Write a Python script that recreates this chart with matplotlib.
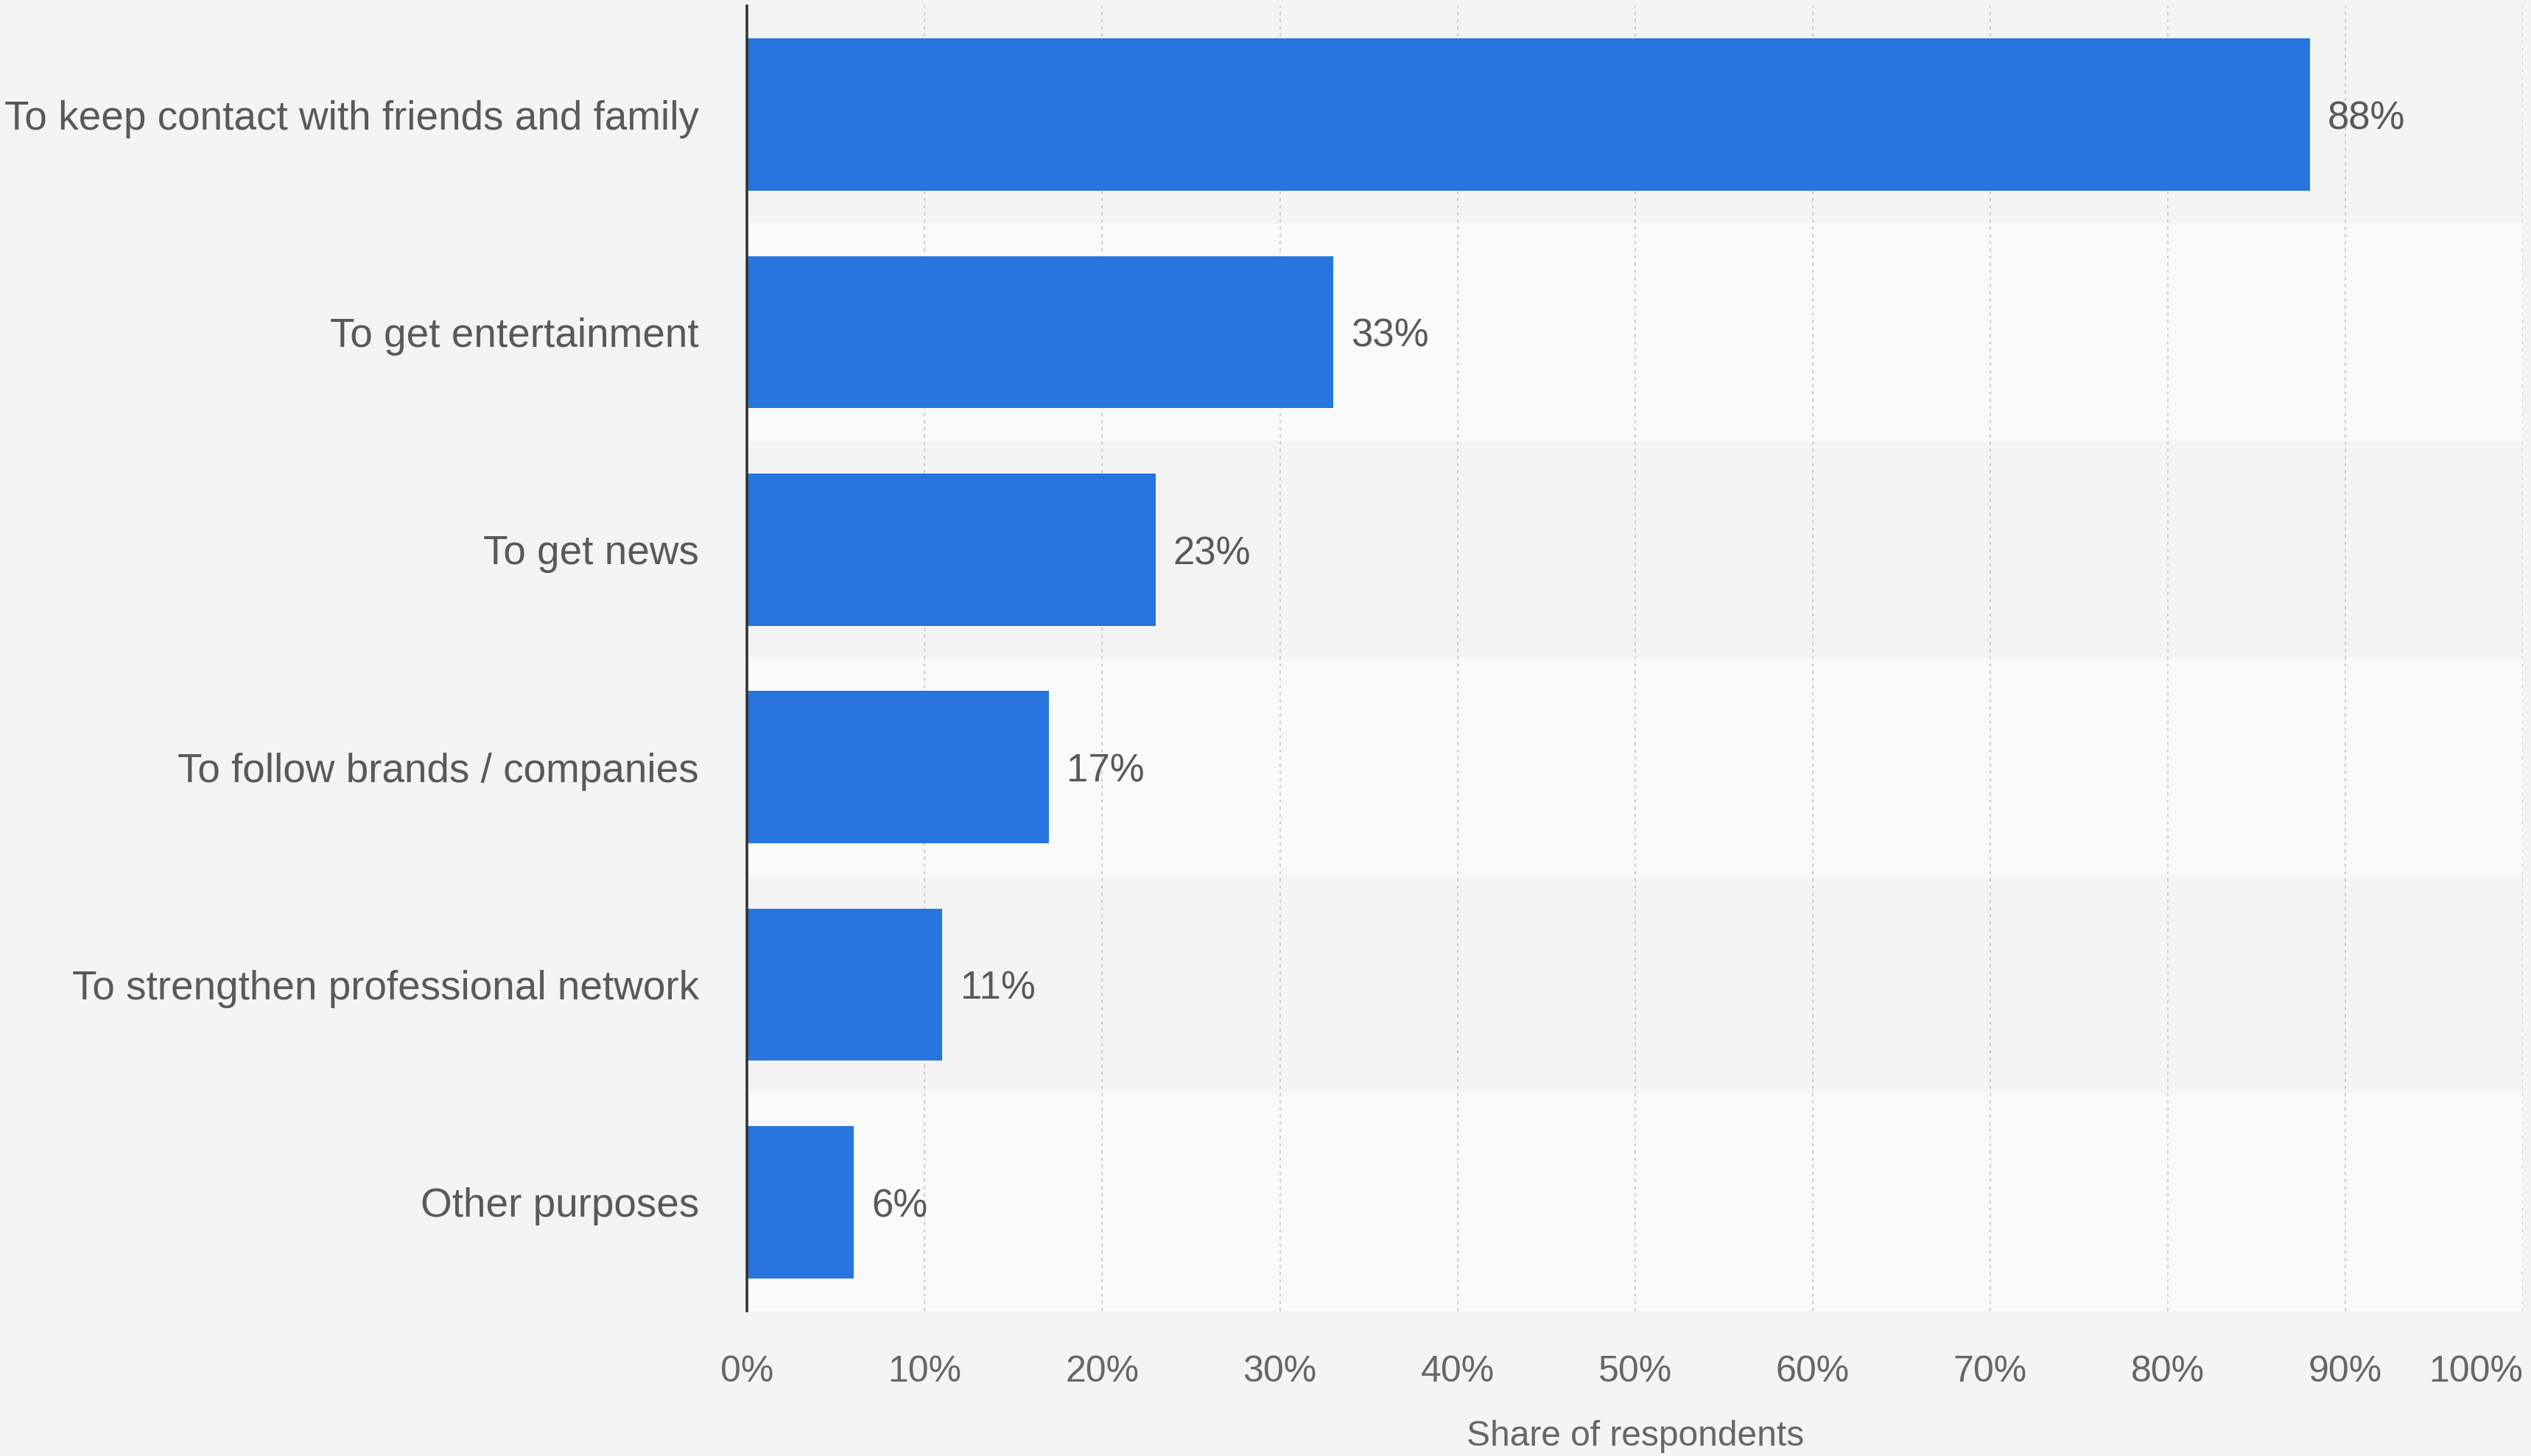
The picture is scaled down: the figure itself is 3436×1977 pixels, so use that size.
import matplotlib.pyplot as plt
import numpy as np

# Data
categories = [
    'To keep contact with friends and family',
    'To get entertainment',
    'To get news',
    'To follow brands / companies',
    'To strengthen professional network',
    'Other purposes',
]
shares = [88, 33, 23, 17, 11, 6]
xticks = list(range(0, 101, 10))
xtick_labels = [f'{t}%' for t in xticks]

plt.rcParams['font.family'] = ['Liberation Sans', 'DejaVu Sans']

bg = '#f4f4f4'
bar_color = '#2875dd'
text_color = '#595959'

fig = plt.figure(figsize=(34.36, 19.77), dpi=100, facecolor=bg)
ax = fig.add_axes([0.2952, 0.0996, 0.7016, 0.8964])
ax.set_facecolor(bg)

y = np.arange(len(categories))

# alternating row bands
for i in y:
    ax.axhspan(i - 0.5, i + 0.5, color=bg if i % 2 == 0 else '#fafafa', zorder=0)

# dotted vertical gridlines
for t in xticks[1:]:
    ax.axvline(t, color='#c8c8c8', linestyle=(0, (2, 3)), linewidth=1.4, zorder=1)

ax.barh(y, shares, height=0.7, color=bar_color, zorder=2)

for yi, v in zip(y, shares):
    ax.text(v + 1.0, yi + 0.02, f'{v}%', va='center', ha='left', fontsize=38,
            color=text_color, zorder=3)

ax.set_xlim(0, 100)
ax.set_ylim(len(categories) - 0.5, -0.5)

ax.set_yticks(y)
ax.set_yticklabels(categories, fontsize=39.5, color=text_color)
ax.set_xticks(xticks)
ax.set_xticklabels(xtick_labels, fontsize=36, color='#666666')
ax.get_xticklabels()[-1].set_ha('right')
ax.tick_params(axis='y', length=0, pad=47)
ax.tick_params(axis='x', length=0, pad=43)

for s in ['top', 'right', 'bottom']:
    ax.spines[s].set_visible(False)
ax.spines['left'].set_color('#333333')
ax.spines['left'].set_linewidth(2.6)
ax.spines['left'].set_zorder(4)

ax.set_xlabel('Share of respondents', fontsize=34.5, color='#666666')
ax.xaxis.set_label_coords(0.5, -0.096)
ax.xaxis.label.set_va('center')

fig.savefig('out.png', dpi=100, facecolor=bg)
